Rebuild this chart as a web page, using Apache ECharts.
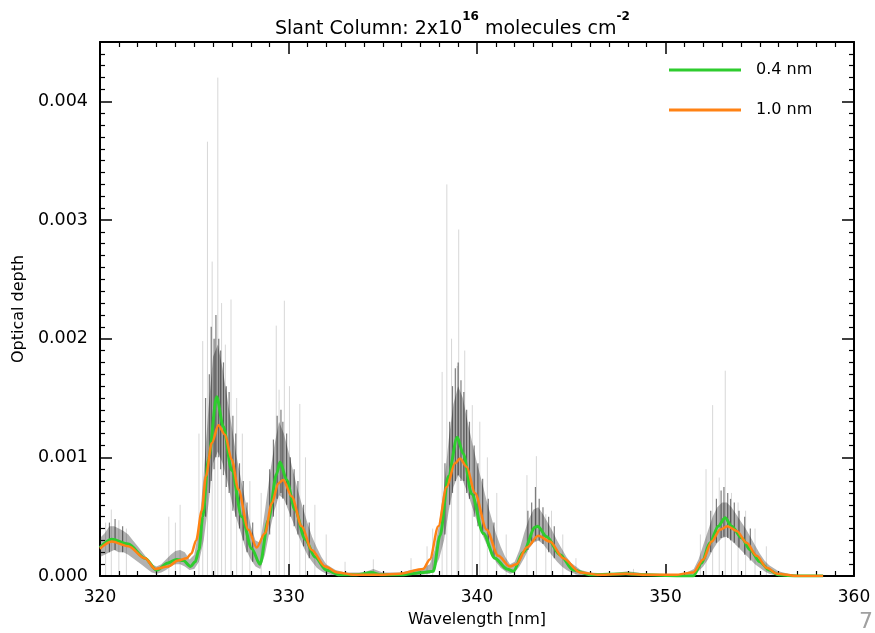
<!DOCTYPE html>
<html><head><meta charset="utf-8">
<script src="https://cdn.jsdelivr.net/npm/echarts@6/dist/echarts.min.js"></script>
<style>html,body{margin:0;padding:0;background:#fff}#c{width:875px;height:633px}</style>
</head><body><div id="c"></div>
<script>
// ---- data (optical depth in units of 1e-3) ----
const xTicks = [320, 330, 340, 350, 360];
const yTicks = ['0.000', '0.001', '0.002', '0.003', '0.004'];

// 0.4 nm resolution (green)
const greenNm = [320.0,320.62,321.5,322.39,323.0,323.61,324.07,324.42,324.8,325.05,325.25,325.45,325.75,326.19,326.54,326.99,327.52,328.05,328.49,328.93,329.37,329.55,329.9,330.34,330.88,331.41,332.0,332.7,333.6,334.4,334.9,336.0,337.15,337.68,338.04,338.48,338.95,339.27,339.72,340.33,340.95,341.58,341.93,342.46,343.08,343.22,343.7,344.4,345.1,346.0,347.9,349.0,351.0,351.47,351.92,352.36,352.8,353.16,353.51,354.04,354.5,355.0,355.5,356.0,357.0,358.36];
const greenOD = [0.24,0.31,0.27,0.15,0.05,0.11,0.14,0.13,0.08,0.12,0.22,0.50,0.98,1.51,1.26,0.89,0.50,0.23,0.10,0.47,0.86,0.96,0.81,0.56,0.31,0.16,0.05,0.01,0.01,0.03,0.01,0.01,0.03,0.04,0.34,0.84,1.17,1.03,0.69,0.36,0.15,0.06,0.04,0.20,0.41,0.42,0.33,0.18,0.05,0.01,0.02,0.01,0.0,0.0,0.11,0.28,0.42,0.49,0.42,0.32,0.22,0.12,0.05,0.01,0.0,0.0];

// 1.0 nm resolution (orange)
const orangeNm = [320.0,320.62,321.5,322.39,322.92,323.61,324.14,324.6,324.85,325.1,325.4,325.62,325.93,326.28,326.63,326.99,327.34,327.87,328.31,328.75,329.11,329.46,329.72,330.17,330.7,331.23,331.94,332.6,333.5,334.85,335.91,337.15,337.5,337.95,338.39,338.83,339.1,339.45,339.89,340.51,341.13,341.75,342.1,342.64,343.25,343.87,344.58,345.46,346.5,347.9,349.0,350.5,351.47,352.0,352.45,352.89,353.28,353.78,354.3,354.84,355.37,355.9,357.0,358.36];
const orangeOD = [0.23,0.29,0.25,0.15,0.06,0.08,0.13,0.15,0.19,0.30,0.55,0.84,1.12,1.27,1.19,0.98,0.73,0.39,0.24,0.36,0.61,0.78,0.81,0.67,0.42,0.22,0.08,0.03,0.01,0.01,0.02,0.06,0.14,0.42,0.75,0.95,0.99,0.92,0.70,0.39,0.17,0.08,0.10,0.24,0.34,0.29,0.15,0.03,0.01,0.02,0.01,0.01,0.03,0.14,0.29,0.39,0.42,0.38,0.28,0.17,0.07,0.02,0.0,0.0];

// high resolution spectrum: envelope of the dense band
const bandNm = [320.0,320.25,320.5,320.75,321.0,321.25,321.5,321.75,322.0,322.25,322.5,322.75,323.0,323.25,323.5,323.75,324.0,324.25,324.5,324.75,325.0,325.25,325.5,325.75,326.0,326.25,326.5,326.75,327.0,327.25,327.5,327.75,328.0,328.25,328.5,328.75,329.0,329.25,329.5,329.75,330.0,330.25,330.5,330.75,331.0,331.25,331.5,331.75,332.0,332.5,333.0,334.0,334.5,335.0,336.0,336.5,337.0,337.5,337.75,338.0,338.25,338.5,338.75,339.0,339.25,339.5,339.75,340.0,340.25,340.5,340.75,341.0,341.25,341.5,341.75,342.0,342.25,342.5,342.75,343.0,343.25,343.5,343.75,344.0,344.25,344.5,344.75,345.0,345.5,346.0,347.0,348.0,349.0,350.0,351.0,351.5,351.75,352.0,352.25,352.5,352.75,353.0,353.25,353.5,353.75,354.0,354.25,354.5,354.75,355.0,355.25,355.5,356.0,356.5,357.0,358.0];
const bandLow = [0.16,0.18,0.2,0.22,0.2,0.2,0.18,0.15,0.12,0.09,0.06,0.03,0.02,0.03,0.05,0.08,0.1,0.1,0.08,0.05,0.06,0.12,0.3,0.6,0.95,1.05,0.95,0.8,0.62,0.48,0.35,0.22,0.14,0.08,0.06,0.18,0.38,0.55,0.68,0.65,0.55,0.45,0.35,0.26,0.18,0.12,0.07,0.04,0.02,0.0,0.0,0.0,0.01,0.0,0.0,0.0,0.01,0.02,0.06,0.15,0.3,0.55,0.75,0.85,0.8,0.7,0.58,0.46,0.36,0.27,0.2,0.12,0.07,0.04,0.02,0.03,0.08,0.15,0.23,0.28,0.3,0.27,0.22,0.17,0.12,0.08,0.05,0.03,0.0,0.0,0.0,0.0,0.0,0.0,0.0,0.01,0.04,0.08,0.14,0.22,0.28,0.32,0.33,0.3,0.26,0.22,0.18,0.14,0.1,0.07,0.04,0.02,0.0,0.0,0.0,0.0];
const bandHigh = [0.32,0.36,0.42,0.42,0.4,0.38,0.35,0.3,0.25,0.2,0.15,0.1,0.08,0.1,0.14,0.18,0.21,0.22,0.2,0.14,0.18,0.4,0.85,1.4,1.85,1.95,1.75,1.5,1.25,1.0,0.8,0.6,0.42,0.3,0.28,0.55,0.85,1.1,1.3,1.2,1.05,0.88,0.72,0.58,0.45,0.33,0.24,0.16,0.1,0.05,0.03,0.03,0.06,0.03,0.03,0.05,0.06,0.1,0.22,0.45,0.75,1.15,1.45,1.6,1.5,1.3,1.12,0.95,0.8,0.64,0.5,0.36,0.25,0.16,0.1,0.12,0.22,0.36,0.48,0.56,0.58,0.52,0.45,0.38,0.3,0.23,0.16,0.11,0.05,0.03,0.02,0.04,0.02,0.01,0.02,0.06,0.14,0.26,0.38,0.5,0.58,0.62,0.62,0.58,0.52,0.46,0.4,0.33,0.26,0.19,0.13,0.09,0.04,0.02,0.01,0.0];

// darker streaks inside the band
const streakNm = [320.5,320.8,321.2,325.6,325.8,325.9,326.05,326.15,326.3,326.4,326.55,326.7,326.85,327.05,327.2,327.4,327.6,327.8,328.1,329.0,329.2,329.4,329.6,329.7,329.9,330.1,330.3,330.5,330.8,331.1,338.3,338.55,338.7,338.85,339.0,339.15,339.3,339.45,339.6,339.85,340.05,340.3,340.6,340.9,342.7,342.9,343.1,343.3,343.5,343.8,344.1,352.4,352.7,352.95,353.1,353.3,353.45,353.65,353.9,354.2,354.5];
const streakLow = [0.2,0.22,0.2,0.5,0.7,0.8,0.9,1.0,1.0,0.9,0.85,0.75,0.7,0.55,0.5,0.4,0.3,0.2,0.12,0.35,0.5,0.65,0.7,0.65,0.6,0.5,0.42,0.35,0.25,0.15,0.35,0.6,0.7,0.8,0.85,0.8,0.8,0.7,0.65,0.5,0.42,0.35,0.25,0.15,0.22,0.27,0.3,0.3,0.27,0.2,0.15,0.2,0.28,0.32,0.33,0.32,0.3,0.28,0.24,0.18,0.13];
const streakHigh = [0.45,0.48,0.42,1.5,1.7,2.1,2.0,2.2,2.0,1.9,1.8,1.6,1.55,1.35,1.2,0.95,0.8,0.62,0.45,0.9,1.15,1.35,1.4,1.3,1.2,1.0,0.9,0.8,0.6,0.45,0.95,1.3,1.6,1.75,1.8,1.65,1.55,1.4,1.3,1.1,0.95,0.82,0.65,0.45,0.55,0.62,0.75,0.65,0.58,0.5,0.42,0.55,0.65,0.72,0.75,0.7,0.65,0.62,0.55,0.5,0.4];

// tall faint single lines
const spikeNm = [320.3,320.6,321.0,321.4,323.65,324.0,324.25,325.25,325.45,325.7,325.95,326.1,326.25,326.45,326.65,326.95,327.25,327.55,327.95,328.55,329.35,329.5,329.78,330.05,330.6,330.9,331.4,332.0,333.0,334.5,336.5,337.35,337.65,338.15,338.4,338.65,338.95,339.03,339.35,339.75,340.15,340.55,341.05,341.55,342.65,343.15,343.65,343.95,344.55,345.25,348.3,351.85,352.15,352.5,352.85,353.17,353.5,353.85,354.25,354.75,355.35];
const spikeTop = [0.45,0.56,0.47,0.40,0.50,0.45,0.60,1.2,1.98,3.66,2.65,2.0,4.2,2.3,1.95,2.33,1.5,1.2,0.8,0.7,2.11,1.57,2.32,1.6,1.45,1.0,0.6,0.35,0.12,0.14,0.15,0.25,0.4,1.72,3.3,2.0,1.77,2.92,1.9,1.44,1.3,1.0,0.7,0.35,0.85,1.01,0.52,0.55,0.35,0.15,0.06,0.35,0.9,1.44,0.83,1.73,0.7,0.62,0.55,0.4,0.25];

const K = 1e-3;
const pairs = (xs, ys) => xs.map((x, i) => [x, ys[i] * K]);

const chart = echarts.init(document.getElementById('c'), null, {renderer: 'canvas'});
const FONT = 'DejaVu Sans';
const axisCommon = {
  axisLine: {onZero: false, lineStyle: {color: '#000', width: 2}},
  splitLine: {show: false}
};
const vline = (style) => (params, api) => {
  const x = api.value(0);
  const p0 = api.coord([x, api.value(1)]);
  const p1 = api.coord([x, api.value(2)]);
  return {type: 'line', shape: {x1: p0[0], y1: p0[1], x2: p1[0], y2: p1[1]}, style: style};
};
// the whole envelope band as one polygon (drawn once, from the first item)
const bandPolygon = (params, api) => {
  if (params.dataIndex !== 0) return null;
  const pts = [];
  for (let i = 0; i < bandNm.length; i++) pts.push(api.coord([bandNm[i], bandHigh[i] * K]));
  for (let i = bandNm.length - 1; i >= 0; i--) pts.push(api.coord([bandNm[i], bandLow[i] * K]));
  return {type: 'polygon', shape: {points: pts}, style: {fill: 'rgba(40,40,40,0.36)'}};
};

const axTick = {inside: true, length: 12, lineStyle: {color: '#000', width: 1.5}};
const axMinor = {show: true, splitNumber: 10, length: 5, lineStyle: {color: '#000', width: 1.2}};

chart.setOption({
  backgroundColor: '#fff',
  animation: false,
  title: {
    text: '{a|Slant Column: 2x10}{s|16}{a| molecules cm}{s|-2}',
    left: 270, top: 6,
    textStyle: {
      fontWeight: 'normal',
      rich: {
        a: {fontFamily: FONT, fontSize: 19, fontWeight: 'normal', color: '#000', lineHeight: 28, verticalAlign: 'bottom'},
        s: {fontFamily: FONT, fontSize: 12, fontWeight: 'bold', color: '#000', lineHeight: 28, verticalAlign: 'top'}
      }
    }
  },
  legend: {
    orient: 'vertical', left: 664, top: 57, itemGap: 24,
    itemWidth: 72, itemHeight: 3,
    textStyle: {fontFamily: FONT, fontSize: 16, color: '#000', padding: [0, 0, 0, 10]},
    data: [
      {name: '0.4 nm', icon: 'rect', itemStyle: {color: '#2ecc2e'}},
      {name: '1.0 nm', icon: 'rect', itemStyle: {color: '#ff8214'}}
    ]
  },
  grid: {left: 100, right: 21, top: 42, bottom: 53, containLabel: false},
  xAxis: [
    Object.assign({}, axisCommon, {
      type: 'value', position: 'bottom', min: xTicks[0], max: xTicks[xTicks.length - 1], interval: 10,
      name: 'Wavelength [nm]', nameLocation: 'middle', nameGap: 36,
      nameTextStyle: {fontFamily: FONT, fontSize: 16, color: '#000'},
      axisTick: axTick, minorTick: axMinor,
      axisLabel: {fontFamily: FONT, fontSize: 17, color: '#000', margin: 13}
    }),
    Object.assign({}, axisCommon, {
      type: 'value', position: 'top', min: xTicks[0], max: xTicks[xTicks.length - 1], interval: 10,
      axisTick: axTick, minorTick: axMinor, axisLabel: {show: false}
    })
  ],
  yAxis: [
    Object.assign({}, axisCommon, {
      type: 'value', position: 'left', min: 0, max: 0.0045, interval: 0.001,
      name: 'Optical depth', nameLocation: 'middle', nameGap: 68, nameRotate: 90,
      nameTextStyle: {fontFamily: FONT, fontSize: 16, color: '#000'},
      axisTick: axTick, minorTick: axMinor,
      axisLabel: {fontFamily: FONT, fontSize: 17.5, color: '#000', margin: 12, showMaxLabel: false,
        formatter: (v) => { const i = Math.round(v / 0.001); return yTicks[i] !== undefined ? yTicks[i] : ''; }}
    }),
    Object.assign({}, axisCommon, {
      type: 'value', position: 'right', min: 0, max: 0.0045, interval: 0.001,
      axisTick: axTick, minorTick: axMinor, axisLabel: {show: false}
    })
  ],
  graphic: [{
    type: 'text', left: 859, top: 611, silent: true,
    style: {text: '7', fontFamily: FONT, fontSize: 22, fill: '#a0a0a0'}
  }],
  series: [
    {
      name: 'hires spikes', type: 'custom', silent: true, clip: true, z: 1,
      encode: {x: 0, y: 2},
      data: spikeNm.map((x, i) => [x, 0, spikeTop[i] * K]),
      renderItem: vline({stroke: 'rgba(0,0,0,0.16)', lineWidth: 1})
    },
    {
      name: 'hires band', type: 'custom', silent: true, clip: true, z: 2,
      encode: {x: 0, y: 2},
      data: bandNm.map((x, i) => [x, bandLow[i] * K, bandHigh[i] * K]),
      renderItem: bandPolygon
    },
    {
      name: 'hires streaks', type: 'custom', silent: true, clip: true, z: 3,
      encode: {x: 0, y: 2},
      data: streakNm.map((x, i) => [x, streakLow[i] * K, streakHigh[i] * K]),
      renderItem: vline({stroke: 'rgba(0,0,0,0.5)', lineWidth: 1.2})
    },
    {
      name: '0.4 nm', type: 'line', z: 5, symbol: 'none', smooth: 0.3, smoothMonotone: 'x',
      lineStyle: {color: '#2ecc2e', width: 3},
      itemStyle: {color: '#2ecc2e'},
      data: pairs(greenNm, greenOD)
    },
    {
      name: '1.0 nm', type: 'line', z: 6, symbol: 'none', smooth: 0.3, smoothMonotone: 'x',
      lineStyle: {color: '#ff8214', width: 2.5},
      itemStyle: {color: '#ff8214'},
      data: pairs(orangeNm, orangeOD)
    }
  ]
});
</script>
</body></html>
